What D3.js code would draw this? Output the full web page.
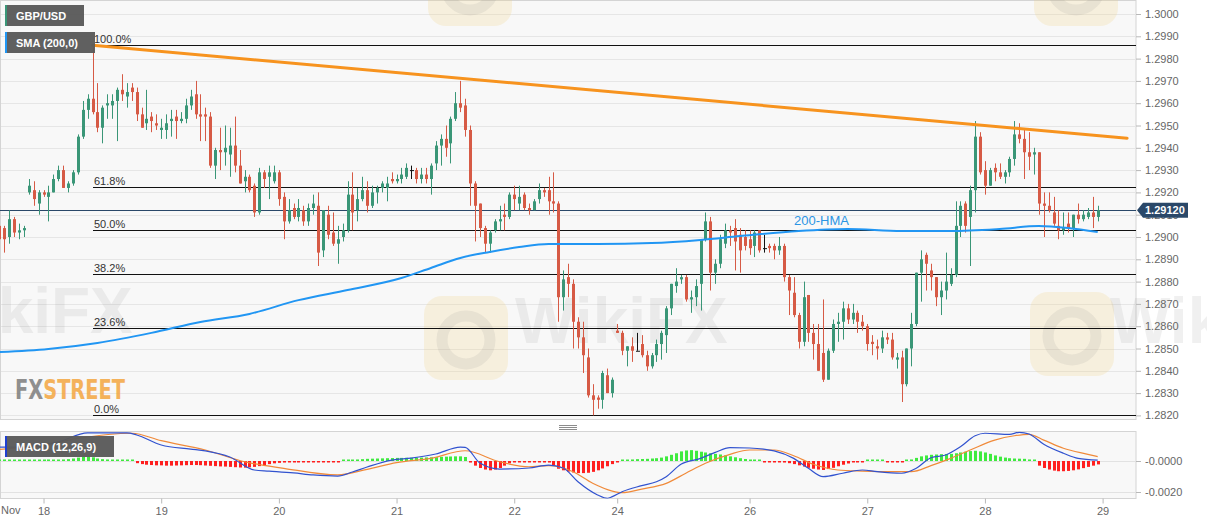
<!DOCTYPE html>
<html>
<head>
<meta charset="utf-8">
<script src="https://cdn.jsdelivr.net/npm/d3@7"></script>
<style>
  body { margin: 0; background: #fff; }
  svg { display: block; font-family: Arial, "Liberation Sans", sans-serif; }
</style>
</head>
<body>
<div id="chart"></div>
<script>
// ---- hourly GBP/USD candles, Nov 15 - Nov 28 ----
const opens = [
  1.2905,1.2904,1.2900,1.2908,1.2902,1.2903,1.2920,1.2921,1.2915,1.2920,
  1.2918,1.2920,1.2926,1.2930,1.2922,1.2924,1.2929,1.2945,1.2957,1.2962,
  1.2956,1.2949,1.2959,1.2959,1.2961,1.2966,1.2963,1.2967,1.2965,1.2955,
  1.2951,1.2954,1.2951,1.2948,1.2948,1.2952,1.2954,1.2952,1.2953,1.2959,
  1.2964,1.2955,1.2955,1.2954,1.2932,1.2939,1.2938,1.2937,1.2941,1.2932,
  1.2925,1.2927,1.2923,1.2911,1.2929,1.2927,1.2925,1.2929,1.2918,1.2907,
  1.2913,1.2909,1.2912,1.2907,1.2913,1.2914,1.2894,1.2910,1.2902,1.2897,
  1.2900,1.2903,1.2919,1.2912,1.2917,1.2921,1.2914,1.2920,1.2922,1.2922,
  1.2926,1.2925,1.2926,1.2927,1.2930,1.2930,1.2926,1.2928,1.2926,1.2933,
  1.2941,1.2944,1.2942,1.2953,1.2960,1.2959,1.2948,1.2924,1.2915,1.2904,
  1.2897,1.2903,1.2907,1.2910,1.2909,1.2919,1.2915,1.2919,1.2913,1.2912,
  1.2917,1.2921,1.2921,1.2916,1.2915,1.2873,1.2882,1.2879,1.2862,1.2855,
  1.2846,1.2829,1.2828,1.2827,1.2838,1.2830,1.2858,1.2857,1.2849,1.2851,
  1.2849,1.2852,1.2847,1.2842,1.2847,1.2852,1.2856,1.2868,1.2878,1.2881,
  1.2882,1.2872,1.2873,1.2879,1.2899,1.2907,1.2884,1.2888,1.2897,1.2903,
  1.2904,1.2901,1.2900,1.2899,1.2896,1.2903,1.2895,1.2896,1.2896,1.2894,
  1.2896,1.2882,1.2875,1.2865,1.2853,1.2874,1.2857,1.2852,1.2848,1.2836,
  1.2849,1.2861,1.2862,1.2868,1.2863,1.2866,1.2862,1.2860,1.2853,1.2851,
  1.2850,1.2855,1.2854,1.2845,1.2846,1.2834,1.2850,1.2861,1.2884,1.2892,
  1.2885,1.2882,1.2873,1.2876,1.2879,1.2883,1.2905,1.2915,1.2909,1.2921,
  1.2945,1.2930,1.2923,1.2931,1.2929,1.2927,1.2929,1.2935,1.2946,1.2944,
  1.2938,1.2937,1.2938,1.2915,1.2914,1.2911,1.2905,1.2903,1.2906,1.2904,
  1.2910,1.2908,1.2909,1.2911,1.2909
];
const highs = [
  1.2918,1.2905,1.2912,1.2909,1.2906,1.2905,1.2926,1.2925,1.2921,1.2921,
  1.2923,1.2928,1.2932,1.2932,1.2925,1.2930,1.2946,1.2961,1.2964,1.2986,
  1.2969,1.2959,1.2964,1.2964,1.2967,1.2973,1.2969,1.2969,1.2967,1.2958,
  1.2966,1.2956,1.2955,1.2953,1.2955,1.2957,1.2957,1.2956,1.2962,1.2966,
  1.2970,1.2964,1.2958,1.2956,1.2940,1.2949,1.2950,1.2949,1.2954,1.2939,
  1.2930,1.2928,1.2924,1.2931,1.2930,1.2932,1.2932,1.2930,1.2920,1.2917,
  1.2915,1.2917,1.2914,1.2915,1.2919,1.2920,1.2912,1.2914,1.2911,1.2905,
  1.2906,1.2925,1.2929,1.2922,1.2927,1.2925,1.2923,1.2923,1.2925,1.2927,
  1.2929,1.2928,1.2931,1.2933,1.2932,1.2931,1.2931,1.2931,1.2933,1.2943,
  1.2946,1.2950,1.2954,1.2965,1.2970,1.2962,1.2950,1.2925,1.2915,1.2905,
  1.2903,1.2908,1.2914,1.2915,1.2920,1.2923,1.2923,1.2920,1.2915,1.2917,
  1.2924,1.2922,1.2927,1.2929,1.2916,1.2885,1.2888,1.2881,1.2864,1.2862,
  1.2850,1.2834,1.2829,1.2840,1.2841,1.2837,1.2861,1.2858,1.2851,1.2855,
  1.2857,1.2856,1.2849,1.2848,1.2854,1.2858,1.2869,1.2879,1.2886,1.2883,
  1.2883,1.2876,1.2881,1.2899,1.2911,1.2909,1.2890,1.2901,1.2906,1.2905,
  1.2908,1.2904,1.2903,1.2903,1.2903,1.2903,1.2901,1.2897,1.2897,1.2900,
  1.2897,1.2883,1.2882,1.2866,1.2880,1.2874,1.2861,1.2861,1.2872,1.2850,
  1.2863,1.2866,1.2871,1.2870,1.2870,1.2867,1.2865,1.2861,1.2856,1.2854,
  1.2858,1.2857,1.2857,1.2848,1.2849,1.2850,1.2866,1.2884,1.2894,1.2893,
  1.2888,1.2882,1.2880,1.2893,1.2886,1.2916,1.2916,1.2916,1.2923,1.2952,
  1.2947,1.2934,1.2931,1.2933,1.2933,1.2930,1.2936,1.2952,1.2951,1.2948,
  1.2947,1.2940,1.2938,1.2920,1.2920,1.2918,1.2912,1.2911,1.2911,1.2910,
  1.2915,1.2912,1.2913,1.2918,1.2914
];
const lows = [
  1.2893,1.2893,1.2897,1.2900,1.2899,1.2900,1.2919,1.2914,1.2910,1.2918,
  1.2907,1.2920,1.2925,1.2922,1.2920,1.2923,1.2928,1.2944,1.2953,1.2955,
  1.2947,1.2942,1.2953,1.2953,1.2943,1.2961,1.2958,1.2961,1.2952,1.2949,
  1.2948,1.2947,1.2948,1.2944,1.2944,1.2945,1.2944,1.2951,1.2951,1.2957,
  1.2953,1.2943,1.2943,1.2931,1.2926,1.2930,1.2932,1.2927,1.2929,1.2924,
  1.2920,1.2920,1.2909,1.2910,1.2922,1.2917,1.2924,1.2914,1.2899,1.2906,
  1.2908,1.2907,1.2905,1.2905,1.2910,1.2887,1.2891,1.2899,1.2896,1.2888,
  1.2898,1.2902,1.2903,1.2907,1.2916,1.2911,1.2913,1.2915,1.2920,1.2916,
  1.2924,1.2924,1.2924,1.2926,1.2926,1.2924,1.2924,1.2924,1.2919,1.2930,
  1.2932,1.2936,1.2933,1.2952,1.2956,1.2945,1.2914,1.2898,1.2900,1.2893,
  1.2893,1.2902,1.2903,1.2903,1.2908,1.2912,1.2912,1.2912,1.2910,1.2912,
  1.2915,1.2918,1.2910,1.2911,1.2862,1.2867,1.2873,1.2850,1.2850,1.2839,
  1.2828,1.2820,1.2823,1.2823,1.2830,1.2828,1.2857,1.2847,1.2842,1.2844,
  1.2849,1.2846,1.2840,1.2841,1.2844,1.2845,1.2848,1.2865,1.2875,1.2879,
  1.2871,1.2866,1.2869,1.2867,1.2898,1.2876,1.2879,1.2886,1.2895,1.2896,
  1.2885,1.2884,1.2894,1.2892,1.2891,1.2893,1.2893,1.2893,1.2890,1.2892,
  1.2880,1.2865,1.2864,1.2850,1.2851,1.2853,1.2845,1.2840,1.2835,1.2836,
  1.2848,1.2853,1.2854,1.2861,1.2861,1.2857,1.2858,1.2849,1.2847,1.2845,
  1.2848,1.2852,1.2845,1.2841,1.2826,1.2833,1.2842,1.2860,1.2871,1.2876,
  1.2876,1.2869,1.2865,1.2872,1.2878,1.2882,1.2900,1.2902,1.2887,1.2911,
  1.2928,1.2919,1.2923,1.2925,1.2926,1.2924,1.2927,1.2932,1.2942,1.2926,
  1.2930,1.2928,1.2910,1.2900,1.2911,1.2905,1.2899,1.2901,1.2902,1.2900,
  1.2906,1.2907,1.2908,1.2904,1.2907
];
const closes = [
  1.2899,1.2899,1.2908,1.2902,1.2903,1.2904,1.2923,1.2917,1.2920,1.2919,
  1.2920,1.2926,1.2930,1.2922,1.2924,1.2929,1.2945,1.2957,1.2962,1.2956,
  1.2949,1.2958,1.2960,1.2961,1.2966,1.2964,1.2965,1.2965,1.2955,1.2949,
  1.2953,1.2952,1.2950,1.2949,1.2951,1.2953,1.2952,1.2953,1.2959,1.2963,
  1.2955,1.2954,1.2954,1.2932,1.2939,1.2938,1.2940,1.2941,1.2932,1.2924,
  1.2927,1.2921,1.2911,1.2929,1.2926,1.2929,1.2929,1.2917,1.2907,1.2912,
  1.2909,1.2913,1.2907,1.2913,1.2915,1.2893,1.2912,1.2901,1.2897,1.2899,
  1.2903,1.2919,1.2911,1.2917,1.2921,1.2914,1.2920,1.2922,1.2924,1.2924,
  1.2925,1.2926,1.2928,1.2931,1.2930,1.2926,1.2928,1.2926,1.2932,1.2941,
  1.2944,1.2940,1.2953,1.2960,1.2958,1.2948,1.2924,1.2914,1.2904,1.2897,
  1.2902,1.2907,1.2908,1.2909,1.2919,1.2917,1.2918,1.2913,1.2912,1.2916,
  1.2921,1.2920,1.2916,1.2915,1.2873,1.2881,1.2879,1.2862,1.2855,1.2847,
  1.2829,1.2827,1.2827,1.2839,1.2830,1.2836,1.2857,1.2849,1.2851,1.2849,
  1.2849,1.2847,1.2842,1.2847,1.2852,1.2857,1.2868,1.2879,1.2880,1.2882,
  1.2872,1.2873,1.2878,1.2899,1.2907,1.2884,1.2888,1.2899,1.2903,1.2902,
  1.2898,1.2894,1.2896,1.2895,1.2902,1.2894,1.2895,1.2895,1.2894,1.2896,
  1.2882,1.2876,1.2865,1.2853,1.2873,1.2857,1.2852,1.2840,1.2836,1.2849,
  1.2861,1.2862,1.2868,1.2863,1.2866,1.2862,1.2860,1.2852,1.2852,1.2850,
  1.2855,1.2854,1.2846,1.2846,1.2834,1.2850,1.2861,1.2884,1.2890,1.2888,
  1.2882,1.2873,1.2876,1.2880,1.2883,1.2905,1.2914,1.2905,1.2921,1.2945,
  1.2929,1.2923,1.2930,1.2929,1.2927,1.2929,1.2935,1.2946,1.2944,1.2938,
  1.2936,1.2938,1.2915,1.2914,1.2912,1.2906,1.2903,1.2904,1.2904,1.2910,
  1.2908,1.2910,1.2911,1.2909,1.2912
];
const lastPrice = 1.29120;

// day ticks (candle index) and their labels
const dayTicks = [9, 33, 57, 81, 105, 126, 153, 177, 201, 225];
const dayLabels = ['18', '19', '20', '21', '22', '24', '26', '27', '28', '29'];

// price axis ticks
const priceTicks = [1.2820, 1.2830, 1.2840, 1.2850, 1.2860, 1.2870, 1.2880, 1.2890, 1.2900,
  1.2910, 1.2920, 1.2930, 1.2940, 1.2950, 1.2960, 1.2970, 1.2980, 1.2990, 1.3000];

// 200-HMA at these candles
const hmaIdx = [0, 10, 20, 31, 41, 51, 61, 71, 82, 88, 94, 100, 106, 112, 122, 133, 143, 151, 163, 173, 184, 194, 204, 212, 218, 224];
const hmaVal = [1.28484, 1.28498, 1.28525, 1.28570, 1.28619, 1.28655, 1.28717, 1.28762, 1.28816, 1.28861,
  1.28906, 1.28933, 1.28955, 1.28969, 1.28969, 1.28973, 1.28987, 1.29004, 1.29027, 1.29036,
  1.29027, 1.29027, 1.29036, 1.29049, 1.29040, 1.29022];

// falling resistance line
const trendIdx = [19, 230];
const trendVal = [1.2986, 1.29443];

// fibonacci retracement
const fibHigh = 1.2986;
const fibLow = 1.2820;
const fibLevels = [1, 0.618, 0.5, 0.382, 0.236, 0];
const fibLabels = ['100.0%', '61.8%', '50.0%', '38.2%', '23.6%', '0.0%'];
const fibStart = 19;

// MACD (12,26,9)
const macdIdx = [0, 4, 12, 18, 26, 28, 33, 39, 42, 47, 52, 55, 60, 64, 69, 72, 75, 80, 84, 89, 94, 95, 98, 102, 108, 112,
  115, 118, 122, 124, 125, 127, 131, 134, 136, 139, 143, 146, 149, 153, 158, 162, 165, 168, 172, 176, 179, 184, 187,
  190, 193, 196, 199, 201, 206, 208, 210, 213, 217, 220, 224];
const macdVal = [0.00090, 0.00090, 0.00123, 0.00181, 0.00181, 0.00168, 0.00103, 0.00077, 0.00065, 0.00026, -0.00058,
  -0.00065, -0.00077, -0.00090, -0.00097, -0.00071, -0.00039, 0.00006, 0.00019, 0.00045, 0.00090, 0.00088, -0.00013,
  -0.00052, -0.00045, -0.00026, -0.00045, -0.00134, -0.00219, -0.00241, -0.00230, -0.00198, -0.00159, -0.00134,
  -0.00101, -0.00021, 0.00017, 0.00056, 0.00086, 0.00084, 0.00065, 0.00017, -0.00047, -0.00101, -0.00079, -0.00058,
  -0.00069, -0.00079, -0.00047, 0.00021, 0.00039, 0.00092, 0.00163, 0.00179, 0.00172, 0.00185, 0.00174, 0.00108,
  0.00050, 0.00017, 0.00006];
const signalIdx = [0, 8, 16, 27, 33, 42, 50, 58, 69, 75, 81, 88, 95, 102, 108, 112, 117, 121, 125, 127, 131, 136, 140,
  144, 149, 153, 158, 162, 166, 171, 176, 182, 186, 190, 194, 198, 203, 207, 210, 213, 217, 222, 224];
const signalVal = [0.00075, 0.00097, 0.00146, 0.00179, 0.00131, 0.00071, -0.00005, -0.00047, -0.00090, -0.00054,
  -0.00011, 0.00017, 0.00066, -0.00005, -0.00037, -0.00030, -0.00069, -0.00144, -0.00194, -0.00204, -0.00181,
  -0.00144, -0.00079, -0.00015, 0.00043, 0.00071, 0.00071, 0.00034, -0.00021, -0.00058, -0.00065, -0.00069,
  -0.00069, -0.00030, 0.00017, 0.00071, 0.00135, 0.00163, 0.00172, 0.00135, 0.00082, 0.00043, 0.00028];
const macdHist = [
  0.00010, 0.00010, 0.00008, 0.00008, 0.00009, 0.00010, 0.00008, 0.00007, 0.00008, 0.00009, 0.00010, 0.00009,
  0.00008, 0.00010, 0.00012, 0.00016,
  0.00022, 0.00026, 0.00027, 0.00024, 0.00016, 0.00012, 0.00010, 0.00008, 0.00006, 0.00004, 0.00002, 0.00000,
  -0.00014, -0.00020, -0.00024, -0.00026, -0.00028, -0.00028, -0.00030, -0.00030, -0.00029, -0.00028, -0.00027,
  -0.00026, -0.00026, -0.00027, -0.00029, -0.00031, -0.00033, -0.00035, -0.00036,
  -0.00038, -0.00040, -0.00042, -0.00043, -0.00041, -0.00038, -0.00033, -0.00027, -0.00020,
  -0.00015, -0.00012, -0.00010, -0.00009, -0.00008, -0.00007, -0.00006, -0.00006, -0.00005, -0.00005, -0.00004,
  -0.00003, -0.00002, -0.00001,
  0.00003, 0.00006, 0.00008, 0.00010, 0.00012, 0.00014, 0.00015, 0.00016, 0.00017,
  0.00018, 0.00019, 0.00020, 0.00020, 0.00021, 0.00021, 0.00022, 0.00022, 0.00023, 0.00024, 0.00025, 0.00027,
  0.00028, 0.00029, 0.00030, 0.00030, 0.00026,
  -0.00010, -0.00030, -0.00045, -0.00055, -0.00060, -0.00055, -0.00045, -0.00030, -0.00015,
  -0.00008, -0.00006, -0.00005, -0.00004, -0.00004, -0.00003, -0.00004, -0.00010,
  -0.00030, -0.00050, -0.00060, -0.00068, -0.00074, -0.00078, -0.00078, -0.00076, -0.00070, -0.00060, -0.00048,
  -0.00034, -0.00020, -0.00008,
  0.00004, 0.00008, 0.00010, 0.00012, 0.00013, 0.00014, 0.00016, 0.00018, 0.00022,
  0.00030, 0.00040, 0.00050, 0.00062, 0.00068, 0.00070, 0.00066, 0.00060, 0.00055,
  0.00050, 0.00046, 0.00042, 0.00036, 0.00030, 0.00024, 0.00018, 0.00013, 0.00008, 0.00004,
  0.00001, -0.00002, -0.00004,
  -0.00006, -0.00008, -0.00010, -0.00014, -0.00020, -0.00028,
  -0.00036, -0.00044, -0.00050, -0.00055, -0.00058, -0.00052, -0.00044, -0.00034,
  -0.00024, -0.00016, -0.00008,
  -0.00004, -0.00002, 0.00000, 0.00002, 0.00002, 0.00000, -0.00002, -0.00003, -0.00004, -0.00003, 0.00002, 0.00010,
  0.00020, 0.00030, 0.00036, 0.00040, 0.00042, 0.00044, 0.00045, 0.00046, 0.00050,
  0.00055, 0.00060, 0.00064, 0.00066, 0.00062, 0.00055, 0.00046, 0.00036, 0.00028,
  0.00022, 0.00018, 0.00016, 0.00015, 0.00014, 0.00010, 0.00002,
  -0.00030, -0.00045, -0.00055, -0.00062, -0.00066, -0.00066, -0.00064, -0.00060, -0.00054, -0.00046, -0.00038,
  -0.00030, -0.00022
];
const macdTicks = [0, -0.002];
const macdTickLabels = ['-0.0000', '-0.0020'];

// ---- layout ----
const W = 1207, H = 526;
const plotRight = 1136;
const priceTop = 0.5, priceBottom = 419.5;
const macdTop = 431.5, macdBottom = 498.5;
const FONT = 'Arial, "Liberation Sans", sans-serif';
const UP = '#3a9677', DOWN = '#d65a45';

const x = d3.scaleLinear().domain([0, 224]).range([-0.6, 1097.7]);
const y = d3.scaleLinear().domain([1.282, 1.300]).range([415.4, 14]);
const ym = d3.scaleLinear().domain([-0.002, 0]).range([492, 461]);
const px = i => Math.round(x(i));

const svg = d3.select('#chart').append('svg')
  .attr('width', W).attr('height', H);

const defs = svg.append('defs');
defs.append('clipPath').attr('id', 'clipPrice')
  .append('rect').attr('x', 0).attr('y', priceTop).attr('width', plotRight).attr('height', priceBottom - priceTop);
defs.append('clipPath').attr('id', 'clipMacd')
  .append('rect').attr('x', 0).attr('y', macdTop).attr('width', plotRight).attr('height', macdBottom - macdTop);

// panels
svg.append('rect').attr('x', 0.5).attr('y', priceTop).attr('width', plotRight - 0.5).attr('height', priceBottom - priceTop)
  .attr('fill', '#f8f8f8').attr('stroke', '#d4d4d4');
svg.append('rect').attr('x', 0.5).attr('y', macdTop).attr('width', plotRight - 0.5).attr('height', macdBottom - macdTop)
  .attr('fill', '#f8f8f8').attr('stroke', '#d4d4d4');

// grid
svg.append('g').selectAll('line').data(priceTicks).join('line')
  .attr('x1', 1).attr('x2', plotRight)
  .attr('y1', d => Math.round(y(d)) + 0.5).attr('y2', d => Math.round(y(d)) + 0.5)
  .attr('stroke', '#e6e6e6');
svg.append('g').selectAll('line').data(macdTicks).join('line')
  .attr('x1', 1).attr('x2', plotRight)
  .attr('y1', d => Math.round(ym(d)) + 0.5).attr('y2', d => Math.round(ym(d)) + 0.5)
  .attr('stroke', '#e2e2e2');

// watermarks
const wm = svg.append('g').attr('pointer-events', 'none');
function watermark(lx, ly, tx, ty) {
  if (lx !== null) {
    wm.append('rect').attr('x', lx).attr('y', ly).attr('width', 84).attr('height', 84).attr('rx', 18)
      .attr('fill', '#f1d27e').attr('opacity', 0.22);
    wm.append('circle').attr('cx', lx + 42).attr('cy', ly + 44).attr('r', 24)
      .attr('fill', 'none').attr('stroke', '#8a8a8a').attr('stroke-width', 11).attr('opacity', 0.13);
  }
  if (tx !== null) {
    wm.append('text').attr('x', tx).attr('y', ty).text('WikiFX')
      .attr('font-family', FONT).attr('font-weight', 'bold').attr('font-size', 64)
      .attr('fill', '#8a8a8a').attr('opacity', 0.12);
  }
}
watermark(null, 0, -80, 333);
watermark(424, 296, 515, 343);
watermark(1030, 292, 1110, 343);
watermark(428, -58, null, 0);
watermark(1034, -58, null, 0);

// FXStreet logo
const logo = svg.append('text').attr('x', 15).attr('y', 399)
  .attr('font-family', '"DejaVu Sans Condensed", "DejaVu Sans", sans-serif')
  .attr('font-weight', 'bold').attr('font-size', 27)
  .attr('textLength', 110).attr('lengthAdjust', 'spacingAndGlyphs').attr('opacity', 0.85);
logo.append('tspan').attr('fill', '#7d7d7d').text('FX');
logo.append('tspan').attr('fill', '#f4a640').text('STREET');

const pg = svg.append('g').attr('clip-path', 'url(#clipPrice)');

// fibonacci lines
const fibY = l => Math.round(y(fibLow + l * (fibHigh - fibLow))) + 0.5;
pg.append('g').selectAll('line').data(fibLevels).join('line')
  .attr('x1', px(fibStart)).attr('x2', plotRight)
  .attr('y1', fibY).attr('y2', fibY)
  .attr('stroke', '#111').attr('stroke-width', 1);
pg.append('g').selectAll('text').data(fibLevels).join('text')
  .attr('x', px(fibStart) + 1).attr('y', d => fibY(d) - 3)
  .attr('font-family', FONT).attr('font-size', 11).attr('fill', '#333')
  .text((d, i) => fibLabels[i]);

// last price line
pg.append('line')
  .attr('x1', 0).attr('x2', plotRight)
  .attr('y1', Math.round(y(lastPrice)) + 0.5).attr('y2', Math.round(y(lastPrice)) + 0.5)
  .attr('stroke', '#2a4869').attr('stroke-width', 1);

// candles
const candles = opens.map((o, i) => ({ i, o, h: highs[i], l: lows[i], c: closes[i] }));
const candleColor = d => d.c > d.o ? UP : d.c < d.o ? DOWN : '#111';
pg.append('g').selectAll('line').data(candles).join('line')
  .attr('x1', d => px(d.i) + 0.5).attr('x2', d => px(d.i) + 0.5)
  .attr('y1', d => y(d.h)).attr('y2', d => y(d.l))
  .attr('stroke', candleColor).attr('stroke-width', 1);
pg.append('g').selectAll('rect').data(candles).join('rect')
  .attr('x', d => px(d.i) - 1)
  .attr('width', d => d.c === d.o ? 4 : 3)
  .attr('y', d => y(Math.max(d.o, d.c)))
  .attr('height', d => Math.max(1, Math.abs(y(d.o) - y(d.c))))
  .attr('fill', candleColor);

// 200-HMA
const hmaPts = hmaIdx.map((d, i) => [x(d), y(hmaVal[i])]);
pg.append('path').attr('d', d3.line().curve(d3.curveMonotoneX)(hmaPts))
  .attr('fill', 'none').attr('stroke', '#2196f3').attr('stroke-width', 2);
pg.append('text').attr('x', 794).attr('y', 225).text('200-HMA')
  .attr('font-family', FONT).attr('font-size', 13).attr('fill', '#2b95e4');

// resistance line
const trendPts = trendIdx.map((d, i) => [x(d), y(trendVal[i])]);
pg.append('path').attr('d', d3.line()(trendPts))
  .attr('fill', 'none').attr('stroke', '#f7931e').attr('stroke-width', 3).attr('stroke-linecap', 'round');

// ---- MACD panel ----
const mg = svg.append('g').attr('clip-path', 'url(#clipMacd)');
const zeroY = ym(0);
mg.append('g').selectAll('rect').data(macdHist).join('rect')
  .attr('x', (d, i) => px(i) - 1)
  .attr('width', 3)
  .attr('y', d => d >= 0 ? Math.min(ym(d), zeroY - 1.5) : zeroY)
  .attr('height', d => Math.max(1.5, Math.abs(ym(d) - zeroY)))
  .attr('fill', d => d >= 0 ? '#3fea3f' : '#ff1f1f');

const sigPts = signalIdx.map((d, i) => [x(d), ym(signalVal[i])]);
mg.append('path').attr('d', d3.line().curve(d3.curveMonotoneX)(sigPts))
  .attr('fill', 'none').attr('stroke', '#f08a3a').attr('stroke-width', 1.2);
const macdPts = macdIdx.map((d, i) => [x(d), ym(macdVal[i])]);
mg.append('path').attr('d', d3.line().curve(d3.curveMonotoneX)(macdPts))
  .attr('fill', 'none').attr('stroke', '#3152cf').attr('stroke-width', 1.2);

// separator handle
svg.append('g').selectAll('line').data([425.5, 427.5, 429.5]).join('line')
  .attr('x1', 559).attr('x2', 577).attr('y1', d => d).attr('y2', d => d)
  .attr('stroke', '#8c8c8c');

// ---- axes ----
const styleAxis = g => {
  g.attr('font-family', FONT);
  g.select('.domain').remove();
  g.selectAll('line').attr('stroke', '#b8b8b8');
  g.selectAll('text').attr('fill', '#666').attr('font-size', 11);
};
svg.append('g').attr('transform', `translate(${plotRight},0)`)
  .call(d3.axisRight(y).tickValues(priceTicks).tickFormat(d3.format('.4f')).tickSize(5).tickPadding(4))
  .call(styleAxis);
svg.append('g').attr('transform', `translate(${plotRight},0)`)
  .call(d3.axisRight(ym).tickValues(macdTicks).tickFormat((d, i) => macdTickLabels[i]).tickSize(5).tickPadding(4))
  .call(styleAxis);
svg.append('g').attr('transform', `translate(0,${macdBottom})`)
  .call(d3.axisBottom(x).tickValues(dayTicks).tickFormat((d, i) => dayLabels[i]).tickSize(5).tickPadding(4))
  .call(styleAxis);
svg.append('text').attr('x', 1).attr('y', 514).text('Nov')
  .attr('font-family', FONT).attr('font-size', 11).attr('fill', '#666');

// last price tag
const ly = y(lastPrice);
svg.append('path')
  .attr('d', `M1137,${ly} L1143,${ly - 7.5} L1188,${ly - 7.5} L1188,${ly + 7.5} L1143,${ly + 7.5} Z`)
  .attr('fill', '#2a4869');
svg.append('text').attr('x', 1145).attr('y', ly + 4).text(lastPrice.toFixed(5))
  .attr('font-family', FONT).attr('font-size', 11).attr('font-weight', 'bold').attr('fill', '#fff');

// legend tags
function tag(x0, y0, w, stripe, label) {
  svg.append('rect').attr('x', x0).attr('y', y0).attr('width', w).attr('height', 21)
    .attr('fill', '#5a5a5a').attr('opacity', 0.96);
  svg.append('rect').attr('x', x0).attr('y', y0).attr('width', 2).attr('height', 21).attr('fill', stripe);
  svg.append('text').attr('x', x0 + 11).attr('y', y0 + 15).text(label)
    .attr('font-family', FONT).attr('font-size', 11).attr('font-weight', 'bold').attr('fill', '#fff');
}
tag(5, 5, 79, UP, 'GBP/USD');
tag(5, 32, 90, '#2196f3', 'SMA (200,0)');
tag(5, 436, 109, '#1f3fd0', 'MACD (12,26,9)');
</script>
</body>
</html>
